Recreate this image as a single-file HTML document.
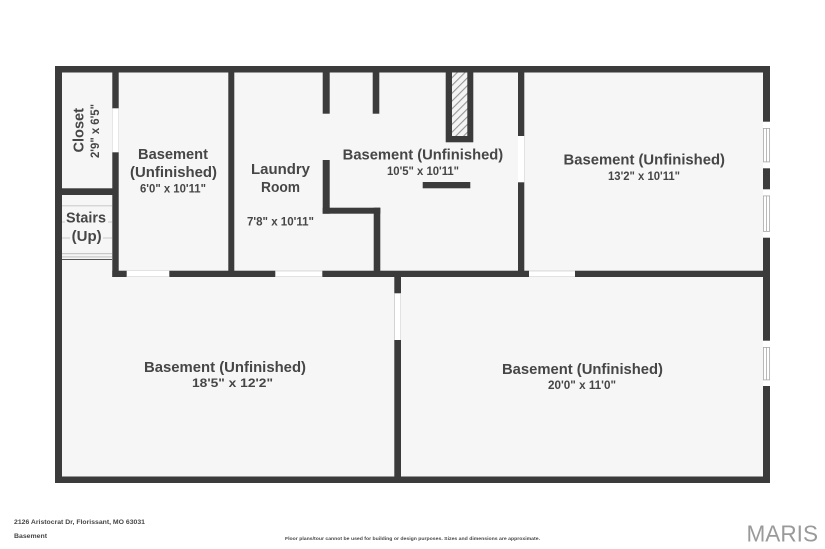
<!DOCTYPE html>
<html>
<head>
<meta charset="utf-8">
<style>
html,body{margin:0;padding:0;background:#fff;width:825px;height:549px;overflow:hidden}
svg{display:block}
text{font-family:"Liberation Sans",sans-serif;font-weight:bold;fill:#464646}
</style>
</head>
<body>
<svg width="825" height="549" viewBox="0 0 825 549" xmlns="http://www.w3.org/2000/svg">
<defs>
<pattern id="h" width="5.5" height="5.5" patternUnits="userSpaceOnUse" patternTransform="rotate(-45)">
<rect width="5.5" height="5.5" fill="#f4f4f4"/>
<rect width="5.5" height="1.1" fill="#969696"/>
</pattern>
</defs>
<rect width="825" height="549" fill="#fff"/>
<!-- floor -->
<rect x="55" y="66" width="715" height="417" fill="#3b3b3b"/>
<rect x="62" y="72.5" width="701" height="404" fill="#f6f6f6"/>

<!-- walls -->
<g fill="#3b3b3b">
<rect x="112.3" y="72" width="6.4" height="205"/>
<rect x="62" y="188.3" width="51" height="6.7"/>
<rect x="112.3" y="270.7" width="655" height="6.3"/>
<rect x="228.3" y="72" width="6" height="200"/>
<rect x="322.7" y="72" width="7" height="41.7"/>
<rect x="372.7" y="72" width="6.6" height="41.7"/>
<rect x="445.7" y="72" width="27.6" height="70.3"/>
<rect x="422.7" y="182" width="47.6" height="6.3"/>
<rect x="322.7" y="160" width="7" height="53.7"/>
<rect x="322.7" y="207.7" width="57.6" height="6"/>
<rect x="373.7" y="207.7" width="6.6" height="64"/>
<rect x="518" y="72" width="6.3" height="200"/>
<rect x="394.3" y="277" width="6.7" height="200"/>
</g>

<!-- chimney hatch -->
<rect x="452" y="72.5" width="15.3" height="63.5" fill="url(#h)"/>

<!-- doors -->
<g fill="#fff">
<rect x="112.3" y="108.3" width="6.4" height="44"/>
<rect x="126.7" y="270.7" width="42.6" height="6.3"/>
<rect x="275.3" y="270.7" width="47" height="6.3"/>
<rect x="529" y="270.7" width="46" height="6.3"/>
<rect x="518" y="136" width="6.3" height="46.3"/>
<rect x="394.3" y="293.3" width="6.7" height="46.7"/>
</g>
<g fill="#d6d6d6">
<rect x="275.3" y="270.7" width="47" height="0.7"/>
<rect x="529" y="270.7" width="46" height="0.7"/>
<rect x="126.7" y="276.3" width="42.6" height="0.7"/>
<rect x="275.3" y="276.3" width="47" height="0.7"/>
<rect x="529" y="276.3" width="46" height="0.7"/>
<rect x="394.3" y="293.3" width="0.7" height="46.7"/>
<rect x="400.3" y="293.3" width="0.7" height="46.7"/>
</g>

<!-- windows -->
<g>
<rect x="763" y="121.7" width="7" height="46.6" fill="#fff"/>
<rect x="763" y="189.3" width="7" height="48.4" fill="#fff"/>
<rect x="763" y="340.7" width="7" height="45.3" fill="#fff"/>
<g fill="#a8a8a8">
<rect x="763" y="128" width="7" height="0.8"/><rect x="763" y="161.5" width="7" height="0.8"/>
<rect x="763" y="195.5" width="7" height="0.8"/><rect x="763" y="231" width="7" height="0.8"/>
<rect x="763" y="347" width="7" height="0.8"/><rect x="763" y="379.5" width="7" height="0.8"/>
<rect x="763" y="128" width="0.8" height="34"/><rect x="766" y="128" width="0.8" height="34"/><rect x="769.2" y="128" width="0.8" height="34"/>
<rect x="763" y="195.5" width="0.8" height="36"/><rect x="766" y="195.5" width="0.8" height="36"/><rect x="769.2" y="195.5" width="0.8" height="36"/>
<rect x="763" y="347" width="0.8" height="33"/><rect x="766" y="347" width="0.8" height="33"/><rect x="769.2" y="347" width="0.8" height="33"/>
</g>
</g>

<!-- stairs -->
<g fill="#c8c8c8">
<rect x="62" y="205.3" width="50" height="1"/>
<rect x="62" y="221.5" width="50" height="1"/>
<rect x="62" y="237.5" width="50" height="1"/>
<rect x="62" y="253" width="50" height="1.2"/>
<rect x="62" y="256.3" width="50" height="1.2"/>
</g>
<rect x="62" y="259" width="50" height="1" fill="#555"/>
<rect x="65" y="208" width="43" height="18" fill="#f6f6f6"/>
<rect x="70" y="226" width="33" height="20" fill="#f6f6f6"/>

<!-- labels -->
<g font-size="14.5">
<text x="138" y="159" textLength="70" lengthAdjust="spacingAndGlyphs">Basement</text>
<text x="130" y="177" textLength="87" lengthAdjust="spacingAndGlyphs">(Unfinished)</text>
<text x="251" y="174" textLength="59" lengthAdjust="spacingAndGlyphs">Laundry</text>
<text x="261" y="192" textLength="39" lengthAdjust="spacingAndGlyphs">Room</text>
<text x="342.7" y="159.3" textLength="160.5" lengthAdjust="spacingAndGlyphs">Basement (Unfinished)</text>
<text x="563.5" y="164.5" textLength="161.5" lengthAdjust="spacingAndGlyphs">Basement (Unfinished)</text>
<text x="144" y="372" textLength="162" lengthAdjust="spacingAndGlyphs">Basement (Unfinished)</text>
<text x="502" y="374" textLength="161" lengthAdjust="spacingAndGlyphs">Basement (Unfinished)</text>
<text x="66" y="222.5" textLength="40" lengthAdjust="spacingAndGlyphs">Stairs</text>
<text x="71.7" y="241" textLength="30" lengthAdjust="spacingAndGlyphs">(Up)</text>
<text transform="translate(83.3,152.5) rotate(-90)" textLength="44.5" lengthAdjust="spacingAndGlyphs">Closet</text>
</g>
<g font-size="11.5">
<text x="140" y="192.5" textLength="66" lengthAdjust="spacingAndGlyphs">6'0" x 10'11"</text>
<text x="247" y="225.7" textLength="67" lengthAdjust="spacingAndGlyphs">7'8" x 10'11"</text>
<text x="387" y="175" textLength="72" lengthAdjust="spacingAndGlyphs">10'5" x 10'11"</text>
<text x="608" y="180" textLength="72" lengthAdjust="spacingAndGlyphs">13'2" x 10'11"</text>
<text x="192" y="387" textLength="81" lengthAdjust="spacingAndGlyphs">18'5" x 12'2"</text>
<text x="548" y="389" textLength="68" lengthAdjust="spacingAndGlyphs">20'0" x 11'0"</text>
<text transform="translate(99,158) rotate(-90)" textLength="54" lengthAdjust="spacingAndGlyphs">2'9" x 6'5"</text>
</g>

<!-- footer -->
<text x="14" y="524" font-size="6.5" textLength="131" lengthAdjust="spacingAndGlyphs">2126 Aristocrat Dr, Florissant, MO 63031</text>
<text x="14" y="538" font-size="6.5" textLength="33" lengthAdjust="spacingAndGlyphs">Basement</text>
<text x="285" y="540" font-size="4.8" textLength="255" lengthAdjust="spacingAndGlyphs">Floor plans/tour cannot be used for building or design purposes. Sizes and dimensions are approximate.</text>
<text x="746.5" y="541.5" font-size="23" textLength="71.5" lengthAdjust="spacingAndGlyphs" style="font-weight:normal;fill:#9a9a9a">MARIS</text>
</svg>
</body>
</html>
